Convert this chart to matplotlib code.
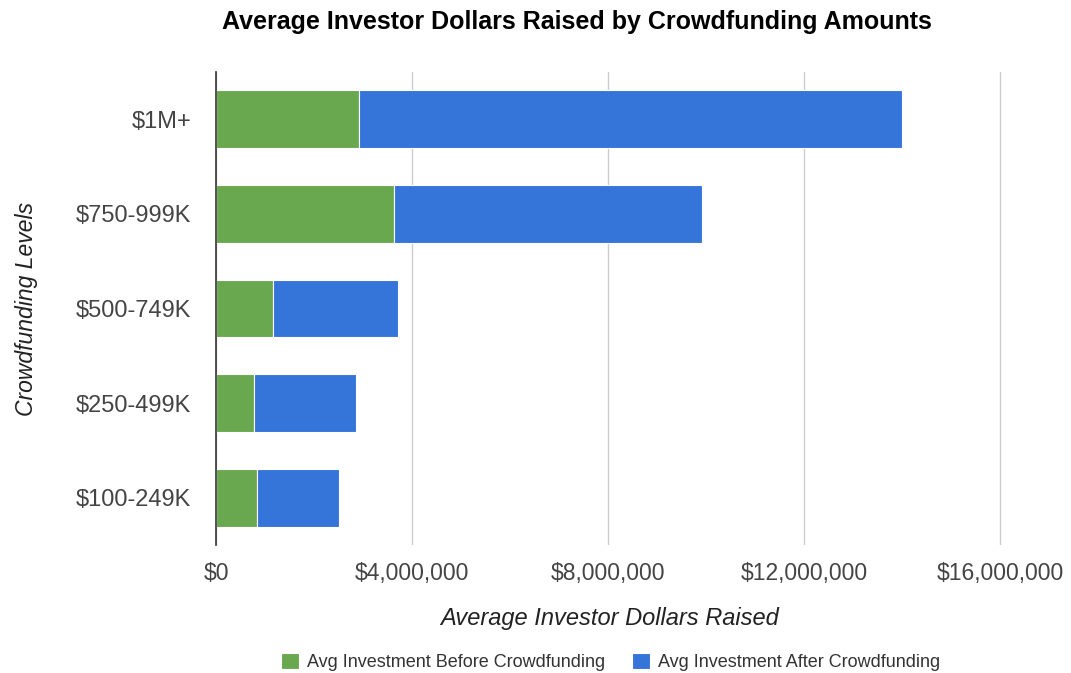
import matplotlib.pyplot as plt
from matplotlib.ticker import FuncFormatter

plt.rcParams['font.family'] = ['Liberation Sans', 'DejaVu Sans']

# Niveles de crowdfunding y promedios (USD)
niveles = ['$100-249K', '$250-499K', '$500-749K', '$750-999K', '$1M+']
antes = [840000, 770000, 1160000, 3640000, 2910000]
total = [2520000, 2860000, 3710000, 9920000, 14000000]
despues = [t - a for t, a in zip(total, antes)]

verde = '#6aa84f'
azul = '#3574d9'

fig = plt.figure(figsize=(10.71, 6.73), dpi=100)
# el limite derecho pasa un poco de 16M para que se vea la ultima linea de grilla
ax = fig.add_axes([216 / 1071, 1 - 545 / 673, (1003 - 216) / 1071, (545 - 72) / 673])

ax.barh(niveles, antes, height=0.61, color=verde, edgecolor='white', linewidth=0.8,
        label='Avg Investment Before Crowdfunding')
ax.barh(niveles, despues, left=antes, height=0.61, color=azul, edgecolor='white', linewidth=0.8,
        label='Avg Investment After Crowdfunding')

ax.set_xlim(0, 16060000)
ax.set_ylim(-0.5, 4.5)
ax.set_xticks([0, 4000000, 8000000, 12000000, 16000000])
ax.xaxis.set_major_formatter(FuncFormatter(lambda v, p: f"${v:,.0f}"))
ax.grid(axis='x', color='#cccccc', linewidth=1)
ax.set_axisbelow(True)
for s in ['top', 'right', 'bottom']:
    ax.spines[s].set_visible(False)
ax.spines['left'].set_color('#333333')
ax.spines['left'].set_linewidth(1.2)
ax.tick_params(length=0, colors='#444444')
ax.tick_params(axis='y', labelsize=17, pad=18)
ax.tick_params(axis='x', labelsize=16.5, pad=12)

ax.set_xlabel('Average Investor Dollars Raised', fontsize=17, style='italic',
              color='#222222', labelpad=16)
ax.set_ylabel('Crowdfunding Levels', fontsize=16.5, style='italic', color='#222222')
ax.yaxis.set_label_coords((38 - 216) / 787, 0.5)

fig.suptitle('Average Investor Dollars Raised by Crowdfunding Amounts', x=0.539, y=1 - 22 / 673,
             va='center', fontsize=18, fontweight='bold')

fig.legend(loc='center', bbox_to_anchor=(0.57, 1 - 662 / 673), ncol=2, frameon=False,
           fontsize=13, handlelength=1.0, handleheight=1.0, columnspacing=1.5,
           handletextpad=0.45, labelcolor='#333333')

fig.savefig('out.png', dpi=100)
